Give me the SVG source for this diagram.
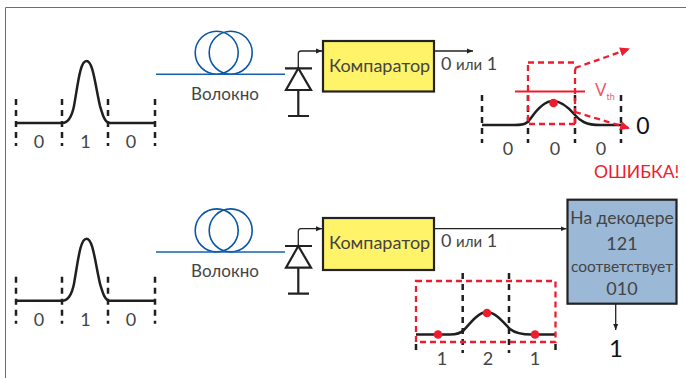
<svg xmlns="http://www.w3.org/2000/svg" width="686" height="378" viewBox="0 0 686 378">
<defs>
<marker id="ak" markerWidth="8" markerHeight="6" refX="6" refY="3" orient="auto" markerUnits="userSpaceOnUse"><path d="M0,0.500 L6,3 L0,5.500 Z" fill="#222"/></marker>
<marker id="ar" markerWidth="12" markerHeight="10" refX="10" refY="5" orient="auto" markerUnits="userSpaceOnUse"><path d="M0,0.500 L10,5 L0,9.500 Z" fill="#ed1c2e"/></marker>
<g id="pulse">
<path class="pl" d="M16,123 H62 C69,123 72,116 74,106 C78,84 80,61 86.500,61 C93,61 95,84 100,106 C103,116 105,123 110,123 H155"/>
<path class="tk" d="M16,99 V146 M62,99 V146 M108,99 V146 M155,99 V146"/>
<text class="d" x="39" y="148" text-anchor="middle">0</text>
<text class="d" x="85.500" y="148" text-anchor="middle">1</text>
<text class="d" x="131" y="148" text-anchor="middle">0</text>
</g>
<g id="fiber">
<circle class="cl" cx="216.700" cy="52.700" r="21.500"/>
<circle class="cl" cx="230.700" cy="52.700" r="21.500"/>
<path class="fb" d="M156,74.300 H285"/>
<text class="t" x="225" y="99.500" text-anchor="middle">Волокно</text>
</g>
<g id="diode">
<path class="ln" d="M298.300,116 V90 M285,68.300 H312 M288,116 H309"/>
<path class="ln" d="M298.300,68.300 L286,90 H311 Z" fill="none"/>
<path class="th" d="M298.300,68 V54 Q298.300,51 301,51 H322" marker-end="url(#ak)"/>
</g>
</defs>
<style>
text{font-family:"Lato","Liberation Sans",sans-serif;fill:#444}
.t{font-size:17px}
.d{font-size:18px}
.b{font-size:18px}
.s{font-size:15px}
.pl{fill:none;stroke:#1f1f1f;stroke-width:2.500}
.tk{fill:none;stroke:#1f1f1f;stroke-width:2.500;stroke-dasharray:6 5}
.cl{fill:none;stroke:#0b56a4;stroke-width:1.600}
.fb{fill:none;stroke:#1463ae;stroke-width:1.600}
.ln{fill:none;stroke:#222;stroke-width:2.200}
.th{fill:none;stroke:#222;stroke-width:1.300}
.rd{fill:none;stroke:#ed1c2e;stroke-width:2.300;stroke-dasharray:6 4}
.dot{fill:#ed1c2e}
.cmp{fill:#fff36a;stroke:#222;stroke-width:2.200}
</style>
<rect width="686" height="378" fill="#fff"/>
<path d="M5.500,378 V7.500 H686" fill="none" stroke="#6e6e6e" stroke-width="1"/>
<g id="input-top"><use href="#pulse"/></g>
<g id="fiber-top"><use href="#fiber"/></g>
<g id="diode-top"><use href="#diode"/></g>
<g id="input-bottom"><use href="#pulse" y="177.700"/></g>
<g id="fiber-bottom"><use href="#fiber" y="177.700"/></g>
<g id="diode-bottom"><use href="#diode" y="177.700"/></g>
<g id="connectors">
<path class="th" d="M434,51 H473" marker-end="url(#ak)"/>
<path class="th" d="M434,228.700 H566.500" marker-end="url(#ak)"/>
<path class="th" d="M615.700,304 V330" marker-end="url(#ak)"/>
</g>
<g id="comparator-top">
<rect class="cmp" x="323" y="41" width="111" height="50.500"/>
<text class="b" x="329" y="72">Компаратор</text>
</g>
<text class="d" x="441" y="70">0 <tspan class="s">или</tspan> 1</text>
<g id="comparator-bottom">
<rect class="cmp" x="323" y="218" width="111" height="52"/>
<text class="b" x="329" y="249">Компаратор</text>
</g>
<text class="d" x="441" y="247">0 <tspan class="s">или</tspan> 1</text>
<g id="result-top">
<path class="pl" d="M482,125 H515 C524,125 527,124 531,118 C538,108 546,101 553,101 C562,101 569,108 575,115 C580,121 586,125 600,125 H621"/>
<path class="tk" d="M482,95 V143 M528,95 V143 M575,95 V143 M621,95 V143"/>
<path class="rd" d="M528,62.500 H575 M575,124 H528 V62.500 M575,124 V71 Q575,68 578,67"/>
<path class="rd" d="M575,68 L630,48.500" marker-end="url(#ar)"/>
<path class="rd" d="M575,112 L630,128.500" marker-end="url(#ar)"/>
<path d="M515,91.500 H585" fill="none" stroke="#ed1c2e" stroke-width="2.200"/>
<circle class="dot" cx="553.500" cy="103" r="4.300"/>
<text x="595" y="96" font-size="17" style="fill:#ef5a66">V<tspan font-size="9" dy="4">th</tspan></text>
<text class="d" x="508" y="155" text-anchor="middle">0</text>
<text class="d" x="555" y="155" text-anchor="middle">0</text>
<text class="d" x="601" y="155" text-anchor="middle">0</text>
<text x="643" y="134" font-size="23" text-anchor="middle" style="fill:#111">0</text>
<text x="594" y="178" font-size="17.500" style="fill:#ed1c2e">ОШИБКА!</text>
</g>
<g id="decoder">
<rect x="567.500" y="199.700" width="109" height="104" fill="#9bb8d6" stroke="#222" stroke-width="2.200"/>
<text class="t" x="622" y="224" text-anchor="middle" style="font-size:17.500px">На декодере</text>
<text class="d" x="622" y="250" text-anchor="middle">121</text>
<text class="t" x="622" y="272" text-anchor="middle" style="font-size:15.500px">соответствует</text>
<text class="d" x="622" y="295" text-anchor="middle">010</text>
<text x="616" y="357" font-size="24" text-anchor="middle" style="fill:#111">1</text>
</g>
<g id="result-bottom">
<path class="pl" d="M416,334.500 H450 C458,334.500 461,333 464,330 C471,322 479,312 487,312 C495,312 503,322 510,329 C516,334 524,334.500 532,334.500 H555.500"/>
<path class="tk" d="M416,344 V353 M462.700,273 V353 M509,273 V353 M555.500,344 V353"/>
<path class="rd" d="M416,281 H555.500 V342 H416 Z"/>
<circle class="dot" cx="438" cy="334.500" r="4.300"/>
<circle class="dot" cx="487" cy="313" r="4.300"/>
<circle class="dot" cx="535" cy="334.500" r="4.300"/>
<text class="d" x="442" y="365" text-anchor="middle">1</text>
<text class="d" x="488" y="365" text-anchor="middle">2</text>
<text class="d" x="535" y="365" text-anchor="middle">1</text>
</g>
</svg>
